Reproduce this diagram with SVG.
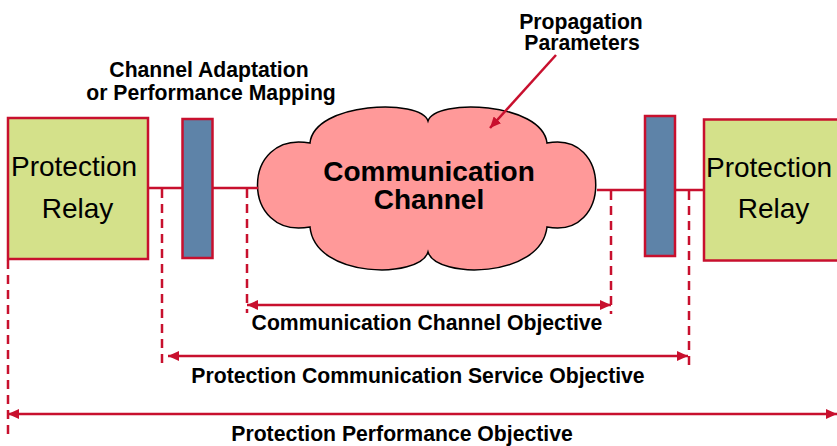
<svg xmlns="http://www.w3.org/2000/svg" width="837" height="446" viewBox="0 0 837 446">
  <style>
    .relay { fill: #D4E18A; stroke: #C8102E; stroke-width: 2.5; }
    .adapt { fill: #5E83A8; stroke: #C8102E; stroke-width: 2.5; }
    .cloud { fill: #FF9999; stroke: #000; stroke-width: 1.5; }
    .link { stroke: #C8102E; stroke-width: 2.5; fill: none; }
    .guide { stroke: #C8102E; stroke-width: 2.5; fill: none; stroke-dasharray: 9 6; }
    .dim { stroke: #C8102E; stroke-width: 2.5; fill: none; marker-start: url(#head); marker-end: url(#head); }
    .relay-text { font-family: "Liberation Sans", Arial, sans-serif; font-size: 28px; fill: #000; text-anchor: middle; }
    .label { font-family: "Liberation Sans", Arial, sans-serif; font-size: 21.2px; font-weight: bold; fill: #000; text-anchor: middle; }
    .cloud-text { font-family: "Liberation Sans", Arial, sans-serif; font-size: 28px; font-weight: bold; fill: #000; text-anchor: middle; }
  </style>
  <defs>
    <marker id="head" markerUnits="userSpaceOnUse" markerWidth="12" markerHeight="10" refX="11" refY="5" orient="auto-start-reverse">
      <path d="M0,0 L11,5 L0,10 z" fill="#C8102E"/>
    </marker>
  </defs>

  <g id="relay-left">
    <rect class="relay" x="8" y="118" width="140" height="141"/>
    <text class="relay-text" x="74" y="176">Protection</text>
    <text class="relay-text" x="77.5" y="218">Relay</text>
  </g>

  <g id="adapter-left">
    <rect class="adapt" x="182.5" y="119" width="30" height="139"/>
  </g>

  <g id="channel">
    <path class="cloud" d="M310,143 C314,102 421,98 428,121 C435,98 542,102 547,143 C612,130 612,240 547,227 C541,279 436,279 428,252 C420,279 315,279 310,227 C240,240 240,130 310,143 Z"/>
    <text class="cloud-text" x="429" y="181">Communication</text>
    <text class="cloud-text" x="429" y="209">Channel</text>
  </g>

  <g id="adapter-right">
    <rect class="adapt" x="645" y="116" width="30" height="140"/>
  </g>

  <g id="relay-right">
    <rect class="relay" x="704" y="119.5" width="140" height="141"/>
    <text class="relay-text" x="769" y="177">Protection</text>
    <text class="relay-text" x="773.5" y="218">Relay</text>
  </g>

  <g id="connectors">
    <!-- signal path -->
    <line class="link" x1="148" y1="188" x2="182" y2="188"/>
    <line class="link" x1="213" y1="188" x2="258" y2="188"/>
    <line class="link" x1="597" y1="190" x2="645" y2="190"/>
    <line class="link" x1="675" y1="190" x2="704" y2="190"/>
    <!-- dashed extension lines -->
    <line class="guide" x1="8" y1="260" x2="8" y2="434"/>
    <line class="guide" x1="162" y1="189" x2="162" y2="366"/>
    <line class="guide" x1="247" y1="189" x2="247" y2="313"/>
    <line class="guide" x1="611" y1="191" x2="611" y2="314"/>
    <line class="guide" x1="689" y1="191" x2="689" y2="368"/>
    <!-- objective spans -->
    <line class="dim" x1="247" y1="305" x2="611" y2="305"/>
    <line class="dim" x1="168" y1="356" x2="688" y2="356"/>
    <line class="dim" x1="8" y1="414" x2="837" y2="414"/>
    <!-- pointer into the cloud -->
    <line class="link" x1="556" y1="55" x2="490" y2="128" style="marker-end: url(#head)"/>
  </g>

  <g id="labels">
    <text class="label" x="209" y="77">Channel Adaptation</text>
    <text class="label" x="211" y="100">or Performance Mapping</text>
    <text class="label" x="581" y="29">Propagation</text>
    <text class="label" x="582" y="50">Parameters</text>
    <text class="label" x="427" y="330">Communication Channel Objective</text>
    <text class="label" x="418" y="383">Protection Communication Service Objective</text>
    <text class="label" x="402" y="441">Protection Performance Objective</text>
  </g>
</svg>
